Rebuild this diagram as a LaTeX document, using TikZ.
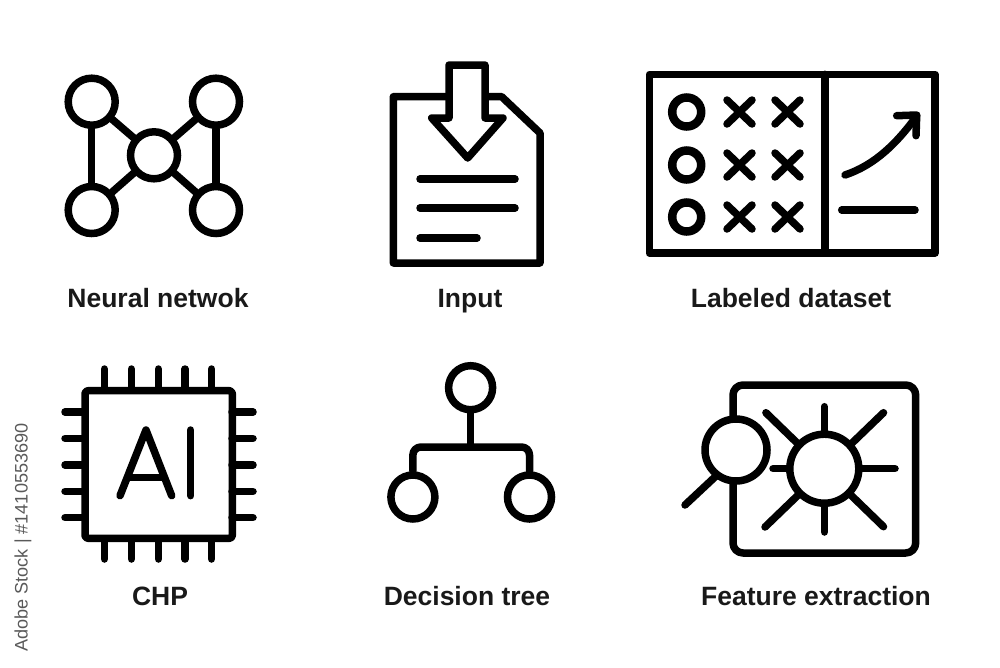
\documentclass[tikz,border=0pt]{standalone}
\usepackage{fontspec}
\setmainfont{Liberation Sans}
\usetikzlibrary{positioning}

\begin{document}
\begin{tikzpicture}[x=1pt,y=-1pt,
   ln/.style={line width=7.5pt,line cap=round,line join=round},
   circ/.style={circle,draw,fill=white,line width=7.5pt,inner sep=0pt,minimum size=#1},
   circ/.default=47pt,
   lbl/.style={font=\fontsize{26.5}{30}\selectfont\bfseries,text=black!90,inner sep=0pt,anchor=base},
   on grid]

   \useasboundingbox (0,0) rectangle (1000,667);

   %neural network
   \node[circ] (nn_tl) at (91.7,101.7) {};
   \node[circ,right=124.3pt of nn_tl] (nn_tr) {};
   \node[circ,below=108.3pt of nn_tl] (nn_bl) {};
   \node[circ,below=108.3pt of nn_tr] (nn_br) {};
   \node[circ] (nn_c) at (154,155.3) {};
   \draw[ln] (nn_tl) -- (nn_bl);
   \draw[ln] (nn_tr) -- (nn_br);
   \draw[ln] (nn_tl) -- (nn_c);
   \draw[ln] (nn_tr) -- (nn_c);
   \draw[ln] (nn_bl) -- (nn_c);
   \draw[ln] (nn_br) -- (nn_c);
   \node[lbl] (nn_lbl) at (158,307) {Neural netwok};

   %input document
   \draw[ln] (449,96.7) -- (393.3,96.7) -- (393.3,263) -- (540,263) -- (540,133) -- (501.7,96.7) -- (485,96.7);
   \draw[ln,fill=white] (449,65) -- (485,65) -- (485,118) -- (503,118) -- (467.7,158) -- (431.7,118) -- (449,118) -- cycle;
   \draw[ln] (420,179) -- (515,179);
   \draw[ln] (420,208) -- (515,208);
   \draw[ln] (420,238) -- (477,238);
   \node[lbl] (in_lbl) at (470,307) {Input};

   %labeled dataset
   \draw[ln] (649.3,74.3) rectangle (935,253);
   \draw[ln] (825,74.3) -- (825,253);
   \node[circ=29pt,line width=8.5pt] (o1) at (686.7,112) {};
   \node[circ=29pt,line width=8.5pt,below=53pt of o1] (o2) {};
   \node[circ=29pt,line width=8.5pt,below=52pt of o2] (o3) {};
   \draw[ln] (727,100) -- (752,124) (727,124) -- (752,100);
   \draw[ln] (775,100) -- (800,124) (775,124) -- (800,100);
   \draw[ln] (727,153) -- (752,177) (727,177) -- (752,153);
   \draw[ln] (775,153) -- (800,177) (775,177) -- (800,153);
   \draw[ln] (727,205) -- (752,229) (727,229) -- (752,205);
   \draw[ln] (775,205) -- (800,229) (775,229) -- (800,205);
   \draw[ln] (845,175) .. controls (875,165) and (897,143) .. (916.7,116);
   \draw[ln] (896.7,115.7) -- (916.7,115) -- (916,135.7);
   \draw[ln] (841.7,210) -- (915,210);
   \node[lbl] (ds_lbl) at (791,307) {Labeled dataset};

   %chip
   \draw[ln] (104.3,369) -- (104.3,390) (131.3,369) -- (131.3,390) (158.3,369) -- (158.3,390) (185,369) -- (185,390) (211.7,369) -- (211.7,390);
   \draw[ln] (104.3,539) -- (104.3,559) (131.3,539) -- (131.3,559) (158.3,539) -- (158.3,559) (185,539) -- (185,559) (211.7,539) -- (211.7,559);
   \draw[ln] (65,412) -- (85,412) (65,438.3) -- (85,438.3) (65,465) -- (85,465) (65,491.3) -- (85,491.3) (65,517.7) -- (85,517.7);
   \draw[ln] (232,412) -- (253,412) (232,438.3) -- (253,438.3) (232,465) -- (253,465) (232,491.3) -- (253,491.3) (232,517.7) -- (253,517.7);
   \draw[ln,rounded corners=3pt] (85,390.7) rectangle (232.3,538.3);
   \draw[ln] (120,495.7) -- (146,430) -- (171.7,495.7);
   \draw[ln] (130,477.3) -- (162,477.3);
   \draw[ln] (190.7,430) -- (190.7,495.7);
   \node[lbl] (ch_lbl) at (160,605) {CHP};

   %decision tree
   \node[circ=44pt] (dt_top) at (470.6,387.7) {};
   \node[circ=44pt] (dt_l) at (412.9,497) {};
   \node[circ=44pt,right=116.6pt of dt_l] (dt_r) {};
   \draw[ln] (dt_top) -- (470.6,447);
   \draw[ln,rounded corners=8pt] (dt_l) -- (412.9,447) -- (529.5,447) -- (dt_r);
   \node[lbl] (dt_lbl) at (467,605) {Decision tree};

   %feature extraction
   \draw[ln,rounded corners=10pt] (733,385) rectangle (915.7,553);
   \draw[ln] (824.3,406.7) -- (824.3,532);
   \draw[ln] (773,468.7) -- (895,468.7);
   \draw[ln] (765.9,412.7) -- (883.5,526.7);
   \draw[ln] (883.5,412.7) -- (765,527);
   \node[circ=69pt] (fe_sun) at (824.3,468.7) {};
   \draw[ln] (716,476) -- (685,505);
   \node[circ=62pt] (fe_lens) at (736,450) {};
   \node[lbl] (fe_lbl) at (816,605) {Feature extraction};

   %side text
   \node[rotate=90,text=black!65,font=\fontsize{18.1}{20}\selectfont,inner sep=0pt] (side) at (23,537.5) {Adobe Stock | \#1410553690};
\end{tikzpicture}
\end{document}
